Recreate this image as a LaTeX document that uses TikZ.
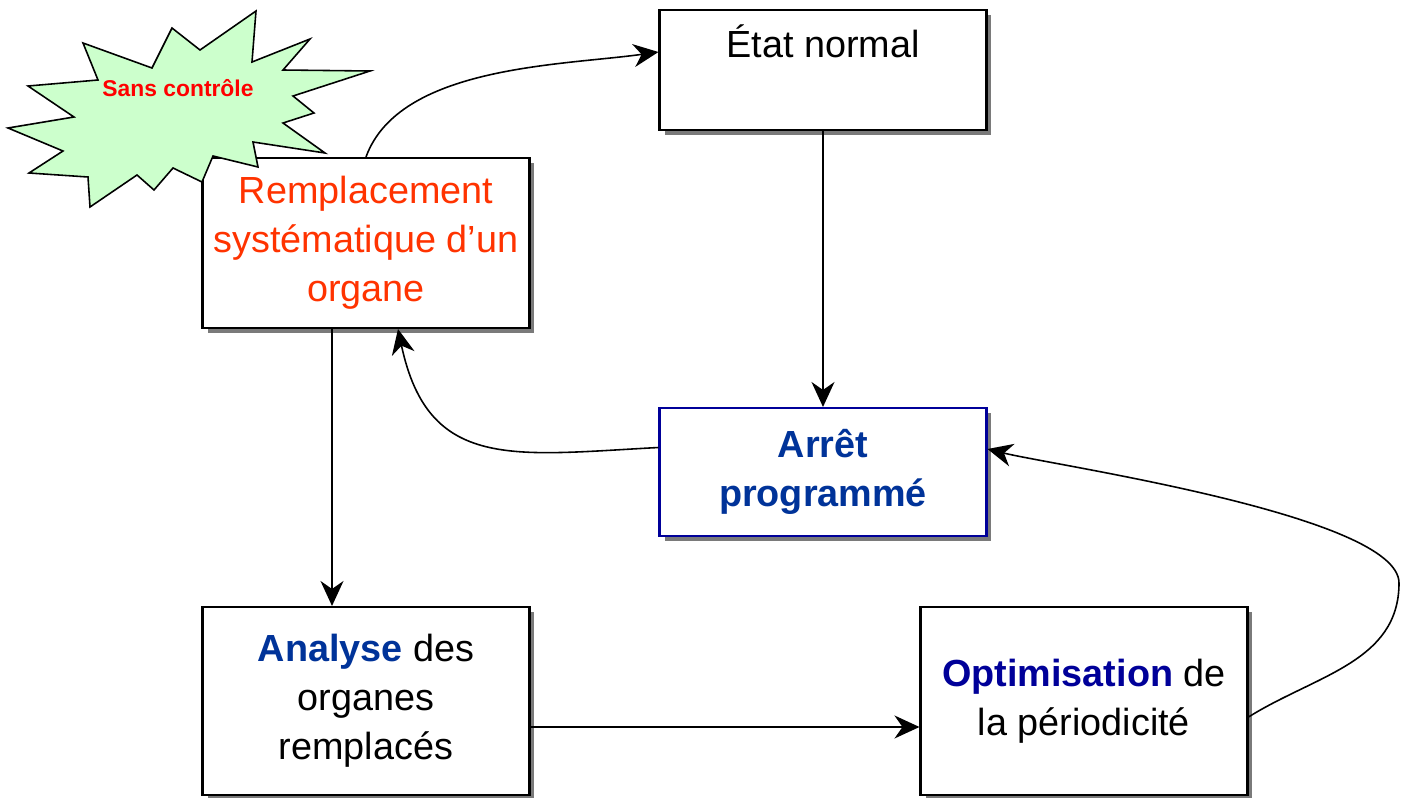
\documentclass[tikz,border=0pt]{standalone}
\usepackage{fontspec}
\setmainfont{Liberation Sans}
\usetikzlibrary{arrows.meta,shadows}

\definecolor{rougeorange}{HTML}{FF3300}
\definecolor{bleufonce}{HTML}{003399}
\definecolor{bleunuit}{HTML}{000099}
\definecolor{vertpale}{HTML}{CCFFCC}
\definecolor{ombre}{HTML}{7A7A7A}

\tikzset{
  bloc/.style={draw, line width=1.2pt, fill=white, minimum width=6.54cm, align=center,
    font=\fontsize{21.5}{28}\selectfont,
    drop shadow={shadow xshift=0.1cm, shadow yshift=-0.1cm, fill=ombre, opacity=1}},
  fleche/.style={line width=0.9pt, -{Stealth[length=0.5cm, width=0.46cm, inset=0.16cm]}},
}

\begin{document}
\begin{tikzpicture}[x=0.02cm, y=0.02cm]
\useasboundingbox (0,0) rectangle (1407,-798);

%boxes
\node [bloc, minimum height=2.4cm, label={[anchor=north, inner sep=0, yshift=-0.3cm, font=\fontsize{21.5}{28}\selectfont]north:État normal}] (etat) at (823,-70) {};
\node [bloc, minimum height=3.4cm, text=rougeorange] (rempl) at (366,-243) {Remplacement\\systématique d’un\\organe};
\node [bloc, draw=bleunuit, minimum height=2.56cm, text=bleufonce, font=\fontsize{21.5}{28}\selectfont\bfseries] (arret) at (823,-472) {Arrêt\\programmé};
\node [bloc, minimum height=3.76cm] (analyse) at (366,-701) {\textcolor{bleufonce}{\bfseries Analyse} des\\organes\\remplacés};
\node [bloc, minimum height=3.76cm] (optim) at (1084,-701) {\textcolor{bleunuit}{\bfseries Optimisation} de\\la périodicité};

%starburst
\filldraw [fill=vertpale, line width=0.9pt] (8,-128) -- (74,-117) -- (28,-86) -- (98,-80) -- (83,-43) -- (152,-68) -- (172,-28) -- (200,-50) -- (256,-11) -- (252,-62) -- (310,-39) -- (283,-70) -- (370,-71) -- (293,-96) -- (314,-113) -- (283,-123) -- (325,-153) -- (253,-142) -- (258,-167) -- (213,-156) -- (202,-182) -- (173,-168) -- (154,-190) -- (137,-175) -- (90,-207) -- (88,-177) -- (29,-173) -- (63,-151) -- cycle;
\node [text=red, font=\fontsize{13}{15}\selectfont\bfseries] (sans) at (178,-88) {Sans contrôle};

%arrows
\coordinate (boucle) at (1399,-583);
\draw [fleche] (rempl.north) to [out=70, in=188, looseness=0.8] ([yshift=0.36cm]etat.west);
\draw [fleche] (etat) -- (arret);
\draw [fleche] ([yshift=0.49cm]arret.west) to [out=183, in=-78, looseness=1.3] ([xshift=0.64cm]rempl.south);
\draw [fleche] ([xshift=-0.68cm]rempl.south) -- ([xshift=-0.68cm]analyse.north);
\draw [fleche] ([yshift=-0.52cm]analyse.east) -- ([yshift=-0.52cm]optim.west);
\draw [fleche] ([yshift=-0.32cm]optim.east) to [out=32, in=-90] (boucle) to [out=90, in=-14, looseness=0.4] ([yshift=0.46cm]arret.east);

\end{tikzpicture}
\end{document}
